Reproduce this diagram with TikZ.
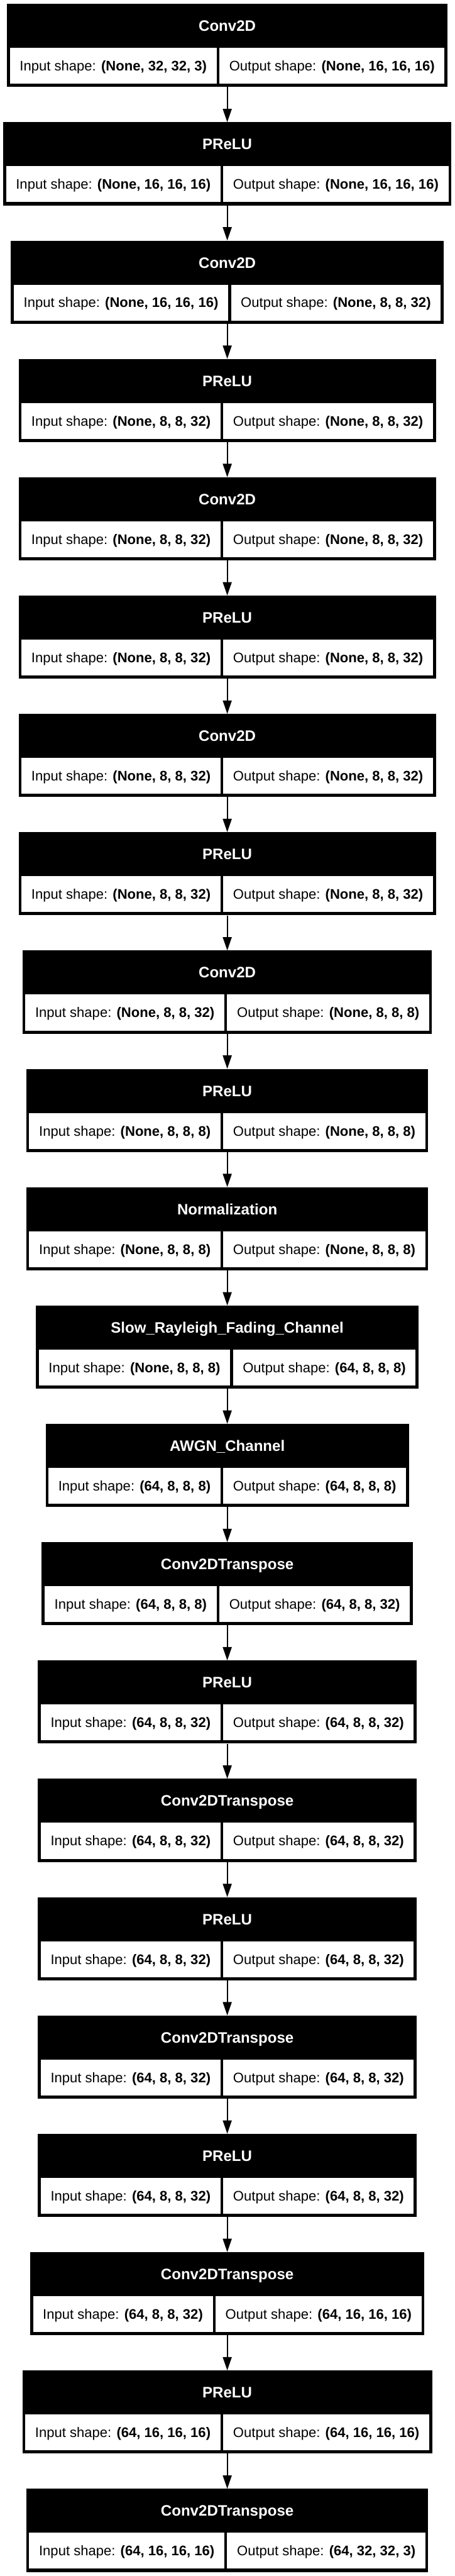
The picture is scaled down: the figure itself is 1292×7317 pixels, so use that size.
\documentclass[tikz,border=0pt]{standalone}
\usepackage{fontspec}
\setmainfont{Liberation Sans}
\usetikzlibrary{arrows.meta,calc,backgrounds}
\newcommand\cellfont{\fontsize{39.4}{47}\selectfont}
\newcommand\ttlfont{\fontsize{43}{52}\selectfont\bfseries}
\tikzset{
  blockbox/.style={fill=black, draw=none, inner sep=0pt, minimum height=236pt},
  titletext/.style={text=white, font=\ttlfont, inner sep=0pt, text height=30.8pt, text depth=0pt},
  cellbox/.style={fill=white, draw=none, inner xsep=28pt, inner ysep=0pt, minimum height=102pt, font=\cellfont, text height=28.2pt, text depth=0pt, anchor=center},
  arr/.style={line width=4pt, draw=black, -{Triangle[length=38pt,width=25pt]}}
}
\newcommand\layerblk[5]{%
  \pgfmathsetmacro\T{11+336.1*#2}%
  \matrix[anchor=north, column sep=8pt, inner sep=0pt, ampersand replacement=\&] (#1m) at (646,-\T-125)
    { \node[cellbox] (#1i) {Input shape: \textbf{#4}}; \&
      \node[cellbox] (#1o) {Output shape: \textbf{#5}}; \\ };
  \begin{pgfonlayer}{background}
  \path let \p1=(#1m.west), \p2=(#1m.east) in
    node[blockbox, minimum width={\x2-\x1+16pt}, anchor=north] (#1) at (646,-\T) {};
  \end{pgfonlayer}
  \node[titletext] (#1t) at ([yshift=-62.5pt]#1.north) {#3};
}
\begin{document}
\begin{tikzpicture}[x=1pt,y=1pt]
\begin{pgfonlayer}{background}
\fill[white] (0,0) rectangle (1292,-7317);
\end{pgfonlayer}
\useasboundingbox (0,0) rectangle (1292,-7317);
\layerblk{b1}{0}{Conv2D}{(None, 32, 32, 3)}{(None, 16, 16, 16)}
\layerblk{b2}{1}{PReLU}{(None, 16, 16, 16)}{(None, 16, 16, 16)}
\layerblk{b3}{2}{Conv2D}{(None, 16, 16, 16)}{(None, 8, 8, 32)}
\layerblk{b4}{3}{PReLU}{(None, 8, 8, 32)}{(None, 8, 8, 32)}
\layerblk{b5}{4}{Conv2D}{(None, 8, 8, 32)}{(None, 8, 8, 32)}
\layerblk{b6}{5}{PReLU}{(None, 8, 8, 32)}{(None, 8, 8, 32)}
\layerblk{b7}{6}{Conv2D}{(None, 8, 8, 32)}{(None, 8, 8, 32)}
\layerblk{b8}{7}{PReLU}{(None, 8, 8, 32)}{(None, 8, 8, 32)}
\layerblk{b9}{8}{Conv2D}{(None, 8, 8, 32)}{(None, 8, 8, 8)}
\layerblk{b10}{9}{PReLU}{(None, 8, 8, 8)}{(None, 8, 8, 8)}
\layerblk{b11}{10}{Normalization}{(None, 8, 8, 8)}{(None, 8, 8, 8)}
\layerblk{b12}{11}{Slow\_Rayleigh\_Fading\_Channel}{(None, 8, 8, 8)}{(64, 8, 8, 8)}
\layerblk{b13}{12}{AWGN\_Channel}{(64, 8, 8, 8)}{(64, 8, 8, 8)}
\layerblk{b14}{13}{Conv2DTranspose}{(64, 8, 8, 8)}{(64, 8, 8, 32)}
\layerblk{b15}{14}{PReLU}{(64, 8, 8, 32)}{(64, 8, 8, 32)}
\layerblk{b16}{15}{Conv2DTranspose}{(64, 8, 8, 32)}{(64, 8, 8, 32)}
\layerblk{b17}{16}{PReLU}{(64, 8, 8, 32)}{(64, 8, 8, 32)}
\layerblk{b18}{17}{Conv2DTranspose}{(64, 8, 8, 32)}{(64, 8, 8, 32)}
\layerblk{b19}{18}{PReLU}{(64, 8, 8, 32)}{(64, 8, 8, 32)}
\layerblk{b20}{19}{Conv2DTranspose}{(64, 8, 8, 32)}{(64, 16, 16, 16)}
\layerblk{b21}{20}{PReLU}{(64, 16, 16, 16)}{(64, 16, 16, 16)}
\layerblk{b22}{21}{Conv2DTranspose}{(64, 16, 16, 16)}{(64, 32, 32, 3)}
\foreach \a [evaluate=\a as \b using int(\a+1)] in {1,...,21}{
  \draw[arr] (b\a.south) -- (b\b.north);
}
\end{tikzpicture}
\end{document}
